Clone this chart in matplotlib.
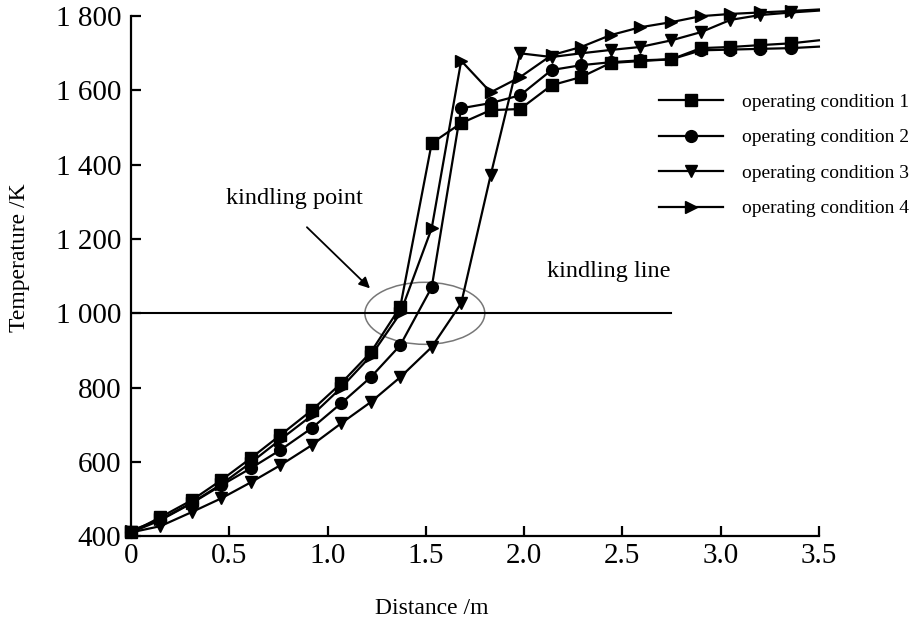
import matplotlib
matplotlib.use("Agg")
import matplotlib.pyplot as plt
from matplotlib.patches import Ellipse
from matplotlib.ticker import FuncFormatter

plt.rcParams['font.family'] = ['Liberation Serif', 'DejaVu Serif']

# distance along the furnace (m), marker positions
distance = [0, 0.15, 0.31, 0.46, 0.61, 0.76, 0.92, 1.07, 1.22, 1.37, 1.53, 1.68,
            1.83, 1.98, 2.14, 2.29, 2.44, 2.59, 2.75, 2.90, 3.05, 3.20, 3.36, 3.50]

# temperature (K) for each operating condition
cond1 = [410, 451, 497, 551, 610, 672, 739, 812, 895, 1017, 1458, 1512,
         1547, 1550, 1614, 1636, 1674, 1679, 1684, 1714, 1717, 1722, 1727, 1735]
cond2 = [410, 443, 489, 537, 583, 632, 691, 758, 828, 914, 1070, 1552,
         1566, 1587, 1655, 1668, 1676, 1681, 1684, 1708, 1710, 1712, 1714, 1718]
cond3 = [410, 427, 465, 502, 545, 591, 645, 704, 761, 828, 909, 1027,
         1372, 1700, 1690, 1700, 1709, 1717, 1735, 1757, 1790, 1803, 1810, 1815]
cond4 = [415, 445, 490, 540, 598, 660, 725, 800, 885, 1000, 1229, 1680,
         1595, 1636, 1695, 1717, 1749, 1770, 1784, 1800, 1806, 1810, 1814, 1818]

labels = ["operating condition 1", "operating condition 2",
          "operating condition 3", "operating condition 4"]
markers = ["s", "o", "v", ">"]
sizes = [8, 8.5, 9, 9]

kindling_temp = 1000
kindling_end = 2.75

fig = plt.figure(figsize=(9.16, 6.22), dpi=100)
ax = fig.add_axes([0.143, 0.138, 0.751, 0.836])

for y, lab, m, ms in zip([cond1, cond2, cond3, cond4], labels, markers, sizes):
    ax.plot(distance, y, color="black", lw=1.6, marker=m, markersize=ms,
            markevery=list(range(len(distance) - 1)), label=lab, clip_on=False)

# kindling line and point
ax.plot([0, kindling_end], [kindling_temp, kindling_temp], color="black", lw=1.5)
ax.add_patch(Ellipse((1.495, kindling_temp), 0.61, 167, fill=False,
                     edgecolor="#777777", lw=1.1))
ax.annotate("", xy=(1.226, 1062), xytext=(0.885, 1237),
            arrowprops=dict(arrowstyle="-|>", color="black", lw=1.3,
                            mutation_scale=16))
ax.text(0.834, 1310, "kindling point", fontsize=17.5, ha="center", va="center")
ax.text(2.43, 1113, "kindling line", fontsize=17.5, ha="center", va="center")

ax.set_xlim(0, 3.5)
ax.set_ylim(400, 1800)
ax.set_xticks([0, 0.5, 1.0, 1.5, 2.0, 2.5, 3.0, 3.5])
ax.set_xticklabels(["0", "0.5", "1.0", "1.5", "2.0", "2.5", "3.0", "3.5"])
ax.set_yticks(range(400, 1801, 200))
ax.yaxis.set_major_formatter(FuncFormatter(
    lambda v, p: f"{int(v):,}".replace(",", " ")))

ax.spines["top"].set_visible(False)
ax.spines["right"].set_visible(False)
for s in ["left", "bottom"]:
    ax.spines[s].set_linewidth(1.6)
ax.tick_params(direction="in", length=7, width=1.6, labelsize=21)
ax.tick_params(axis="x", pad=5)
ax.tick_params(axis="y", pad=7)

ax.set_xlabel("Distance /m", fontsize=17)
ax.set_ylabel("Temperature /K", fontsize=17)
ax.xaxis.set_label_coords(0.437, -0.119)
ax.yaxis.set_label_coords(-0.147, 0.535)

leg = ax.legend(loc="upper left", bbox_to_anchor=(0.7, 0.878),
                bbox_transform=fig.transFigure, frameon=False, fontsize=14,
                handlelength=3.3, handletextpad=1.0, labelspacing=0.92)

fig.savefig("out.png", dpi=100)
